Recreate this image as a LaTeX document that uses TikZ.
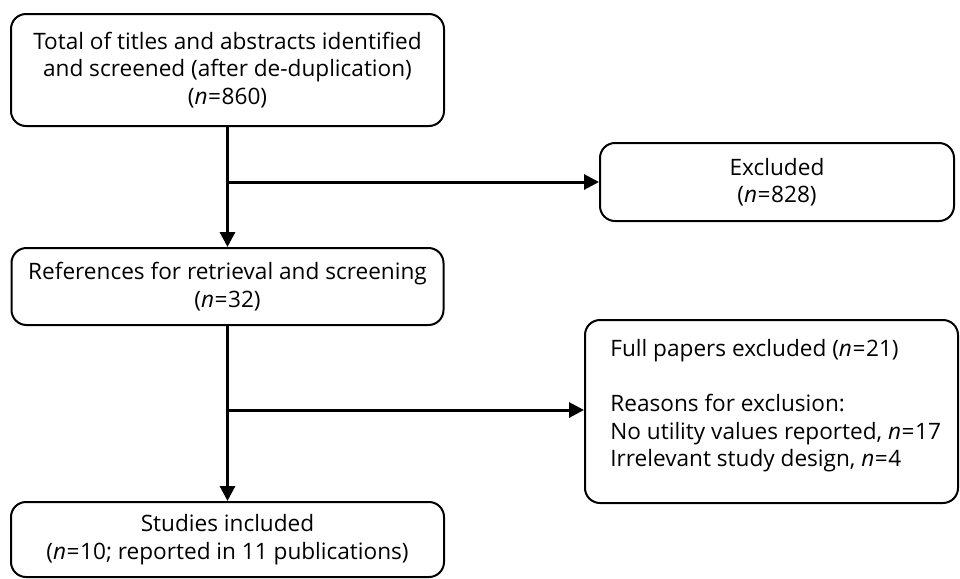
\documentclass[tikz,border=0pt]{standalone}
\usepackage{fontspec}
\setmainfont{Open Sans}
\usetikzlibrary{arrows.meta,positioning}

\tikzset{
  flowbox/.style={draw, line width=1pt, rounded corners=7.5pt, align=center,
    inner sep=0pt, font=\fontsize{11.3}{13.75}\selectfont},
  boxtext/.style={inner sep=0pt, align=left, font=\fontsize{11.3}{13.75}\selectfont},
  flowline/.style={line width=1.5pt},
  flowarrow/.style={flowline, -{Triangle[length=7.5pt,width=7.5pt]}}
}
\newcommand{\nval}[1]{\textit{n}\kern0.3pt=\kern0.3pt#1}

\begin{document}
\begin{tikzpicture}[x=0.5pt,y=-0.5pt]
    \useasboundingbox (0,0) rectangle (960,579);

    \node[flowbox, minimum width=216.5pt, minimum height=56pt] (total) at (227.5,70)
        {Total of titles and abstracts identified\\and screened (after de-duplication)\\(\nval{860})};
    \node[flowbox, minimum width=177pt, minimum height=39pt] (excl) at (777,182)
        {Excluded\\(\nval{828})};
    \node[flowbox, minimum width=216pt, minimum height=38.5pt] (refs) at (227.5,286.5)
        {References for retrieval and screening\\(\nval{32})};
    \node[flowbox, minimum width=186.5pt, minimum height=91.5pt] (fullx) at (771.5,411.5) {};
    \node[boxtext, anchor=west] (fullxtext) at (610,406)
        {Full papers excluded (\nval{21})\\[13.75pt]
         Reasons for exclusion:\\
         No utility values reported, \nval{17}\\
         Irrelevant study design, \nval{4}};
    \node[flowbox, minimum width=216.5pt, minimum height=37.5pt] (incl) at (227.5,539.5)
        {Studies included\\(\nval{10}; reported in 11 publications)};

    \coordinate (split1) at (total.south |- excl.west);
    \coordinate (split2) at (227.5,410);

    \draw[flowarrow] (total.south) -- (refs.north);
    \draw[flowarrow] (split1) -- (excl.west);
    \draw[flowarrow] (refs.south) -- (incl.north);
    \draw[flowarrow] (split2) -- (split2 -| fullx.west);
\end{tikzpicture}
\end{document}
